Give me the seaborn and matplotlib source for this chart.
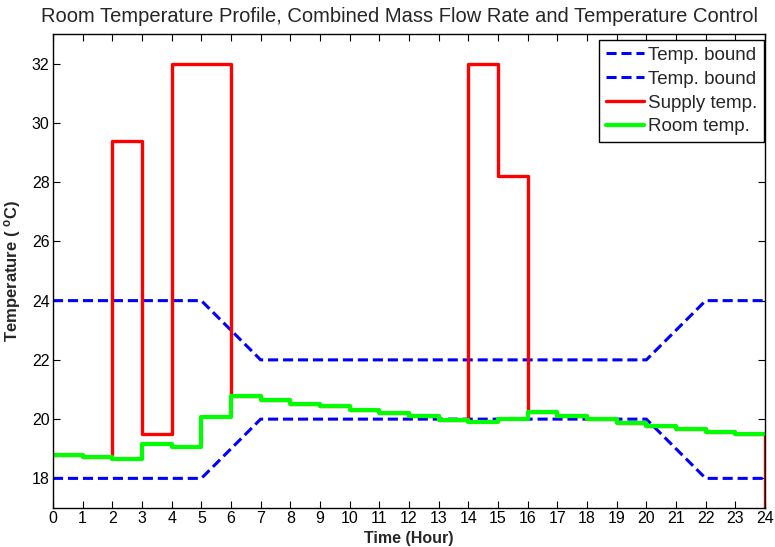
import matplotlib
matplotlib.use("Agg")
import matplotlib.pyplot as plt
import seaborn as sns
import pandas as pd

# ---- data ----
hours = list(range(25))
room_temp = [18.80, 18.73, 18.64, 19.15, 19.07, 20.07, 20.77, 20.63, 20.52, 20.43,
             20.32, 20.20, 20.11, 19.98, 19.89, 20.00, 20.24, 20.11, 20.00, 19.88,
             19.78, 19.68, 19.58, 19.49, 19.49]
supply_temp = [18.80, 18.73, 29.40, 19.50, 32.00, 32.00, 20.77, 20.63, 20.52, 20.43,
               20.32, 20.20, 20.11, 19.98, 32.00, 28.20, 20.24, 20.11, 20.00, 19.88,
               19.78, 19.68, 19.58, 19.49, 16.00]
bound_hours = [0, 5, 7, 20, 22, 24]
upper_bound = [24, 24, 22, 22, 24, 24]
lower_bound = [18, 18, 20, 20, 18, 18]
x_ticks = list(range(25))
y_ticks = [18, 20, 22, 24, 26, 28, 30, 32]

sns.set_theme(style="white")
plt.rcParams["font.family"] = ["Liberation Sans", "DejaVu Sans"]
plt.rcParams["mathtext.fontset"] = "custom"
plt.rcParams["mathtext.bf"] = "Liberation Sans:bold"
plt.rcParams["mathtext.rm"] = "Liberation Sans"

fig = plt.figure(figsize=(7.75, 5.47), dpi=100)
ax = fig.add_axes([53 / 775, 1 - 508 / 547, (765 - 53) / 775, (508 - 34) / 547])

df_b = pd.DataFrame({"h": bound_hours, "up": upper_bound, "lo": lower_bound})
df = pd.DataFrame({"h": hours, "room": room_temp, "supply": supply_temp})

sns.lineplot(data=df_b, x="h", y="up", ax=ax, color=(0, 0, 1), lw=2.2,
             dashes=False, label="Temp. bound", estimator=None)
sns.lineplot(data=df_b, x="h", y="lo", ax=ax, color=(0, 0, 1), lw=2.2,
             dashes=False, label="Temp. bound", estimator=None)
for ln in ax.get_lines():
    ln.set_dashes((3.3, 1.6))
sns.lineplot(data=df, x="h", y="supply", ax=ax, color=(1, 0, 0), lw=2.4,
             drawstyle="steps-post", label="Supply temp.", estimator=None)
sns.lineplot(data=df, x="h", y="room", ax=ax, color=(0, 1, 0), lw=3.0,
             drawstyle="steps-post", label="Room temp.", estimator=None)

ax.set_xlim(0, 24)
ax.set_ylim(17, 33)
ax.set_xticks(x_ticks)
ax.set_yticks(y_ticks)
ax.tick_params(direction="in", length=5, width=0.8, top=True, right=True,
               bottom=True, left=True, labelsize=11.5, colors="black", pad=2.5)
for s in ax.spines.values():
    s.set_color("black")
    s.set_linewidth(1.0)

ax.set_xlabel("Time (Hour)", fontsize=11.5, fontweight="bold", labelpad=3)
ax.set_ylabel(r"Temperature ( $\mathbf{^o}$C)", fontsize=12, fontweight="bold", labelpad=6)
ax.set_title("Room Temperature Profile, Combined Mass Flow Rate and Temperature Control",
             fontsize=14.5, pad=9, x=0.486)

leg = ax.legend(loc="upper right", bbox_to_anchor=(0.9986, 0.987), fontsize=13.5,
                fancybox=False, framealpha=1, edgecolor="black", handlelength=2.0,
                handletextpad=0.25, borderaxespad=0.0, labelspacing=0.36, borderpad=0.35)
leg.get_frame().set_linewidth(1.0)

fig.savefig("out.png", dpi=100)
